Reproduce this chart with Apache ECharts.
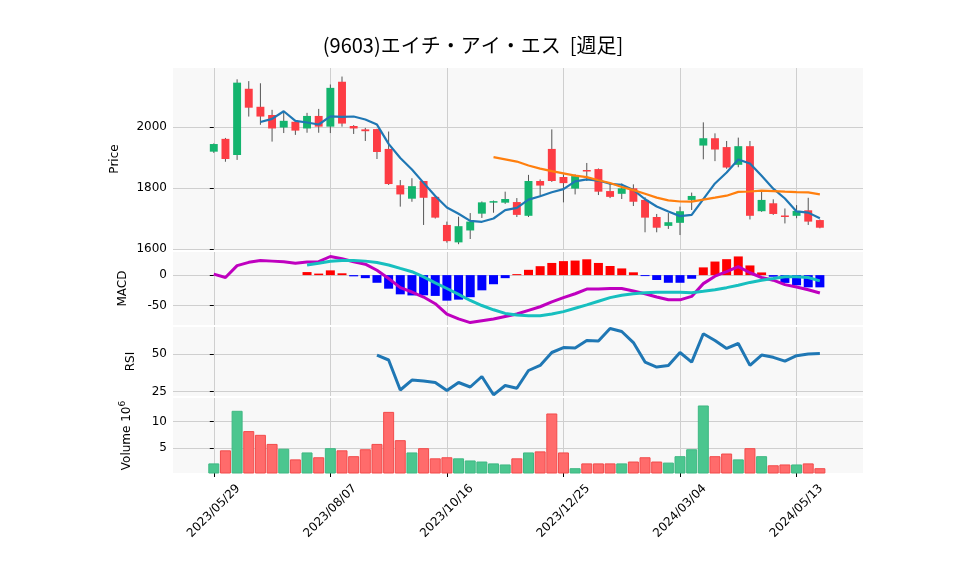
<!DOCTYPE html>
<html>
<head>
    <meta charset="utf-8">
    <script src="https://cdn.jsdelivr.net/npm/echarts@6/dist/echarts.min.js"></script>
    <style>
        body { margin: 0; background: #fff; }
        #main { width: 958px; height: 575px; }
    </style>
</head>

<body>
    <div id="main"></div>

    <script type="text/javascript">
        // weekly candles, 2023/05/29 .. 2024/05/27
        var opens  = [1919,1961,1908,2125,2066,2039,1998,2017,1995,2036,2001,2148,2003,1992,1993,1928,1809,1765,1823,1771,1679,1622,1661,1716,1752,1752,1754,1709,1823,1928,1836,1798,1859,1862,1790,1781,1799,1761,1705,1676,1686,1761,1939,1963,1934,1876,1937,1724,1750,1710,1709,1727,1695];
        var closes = [1944,1895,2145,2063,2034,1995,2020,1988,2036,2001,2128,2011,1995,1986,1918,1813,1779,1806,1768,1703,1626,1675,1690,1753,1757,1764,1712,1823,1808,1823,1816,1839,1856,1788,1771,1799,1755,1703,1670,1688,1724,1774,1963,1926,1867,1937,1709,1761,1715,1706,1725,1690,1670];
        var highs  = [1946,1964,2156,2150,2143,2056,2052,2020,2046,2059,2139,2165,2006,1997,1994,1985,1826,1832,1823,1772,1690,1706,1718,1756,1759,1788,1767,1843,1828,1992,1845,1845,1882,1864,1815,1815,1812,1770,1715,1718,1739,1785,2015,1979,1954,1965,1954,1788,1763,1733,1744,1768,1697];
        var lows   = [1915,1886,1892,2034,2007,1952,1980,1974,1981,1981,1980,2001,1977,1954,1895,1810,1739,1755,1679,1700,1621,1616,1633,1702,1719,1748,1705,1705,1771,1820,1753,1779,1823,1777,1767,1764,1741,1655,1655,1666,1646,1728,1894,1888,1863,1868,1697,1722,1712,1684,1701,1679,1668];
        var volumes = [2.15,4.6,12.0,8.2,7.5,5.8,4.9,2.9,4.2,3.3,5.0,4.6,3.5,4.8,5.8,11.8,6.5,4.2,5.0,3.1,3.3,3.1,2.7,2.5,2.15,1.95,3.1,4.2,4.4,11.5,4.2,1.25,2.15,2.15,2.15,2.15,2.5,3.3,2.5,2.3,3.5,4.8,13.0,3.5,4.0,2.9,5.0,3.5,1.8,1.95,1.95,2.15,1.25];
        var macdLine = [1.7,-3.9,15.6,21,24,23,22,19.5,21.7,22,30.6,27,22,18,8,-5.6,-20.6,-27.8,-36,-47,-64,-72,-78,-75,-72,-68,-64,-58,-52,-44,-37,-30.6,-23,-23,-22,-22,-26,-30.6,-36,-40.6,-40.6,-35,-14,-1.7,5.6,14,3.9,-3.9,-8.3,-15.6,-19.5,-24,-29.5];
        // signal starts at week 8
        var signalLine = [16.7,19.5,22.8,24,24,23,20.6,16.7,11,5.6,-2.8,-12.8,-22,-31.7,-41.7,-50,-57,-63,-65.6,-66.7,-66.7,-64,-60,-54.5,-49,-43,-37,-33,-30.6,-29,-28,-28,-28,-29,-26.7,-24,-20.6,-16.7,-12,-8.3,-5.6,-2.8,-2.8,-3.9,-9.4];
        var signalStart = 8;
        // RSI starts at week 14
        var rsiLine = [49.3,46,26,32.6,32,31,25.6,31,28,35,22.8,29,27.2,39,42.4,51,54.3,54,59,58.7,67,65,57.6,44.6,41.3,42.4,51,44.6,63.5,59,53.7,57,42.4,49.3,47.8,45.2,48.9,50,50.4];
        var rsiStart = 14;
        var tickIdx = [0, 10, 20, 30, 40, 50];
        var tickLabels = ['2023/05/29', '2023/08/07', '2023/10/16', '2023/12/25', '2024/03/04', '2024/05/13'];

        var upColor = '#14b46e', downColor = '#fd3c44';
        var upVol = '#4bc68f', downVol = '#ff6b6b';

        function sma(arr, n) {
            var out = [];
            for (var i = n - 1; i < arr.length; i++) {
                var s = 0;
                for (var k = i - n + 1; k <= i; k++) s += arr[k];
                out.push([i, s / n]);
            }
            return out;
        }

        var candleData = closes.map(function (c, i) { return [i, opens[i], c, lows[i], highs[i]]; });
        var volData = volumes.map(function (v, i) {
            var up = closes[i] >= opens[i];
            return { value: [i, v], itemStyle: { color: up ? upVol : downVol, borderColor: up ? '#3fb883' : '#f24b4b', borderWidth: 1 } };
        });
        var macdData = macdLine.map(function (v, i) { return [i, v]; });
        var signalData = signalLine.map(function (v, i) { return [i + signalStart, v]; });
        var histData = signalLine.map(function (s, i) {
            var h = macdLine[i + signalStart] - s;
            return { value: [i + signalStart, h], itemStyle: { color: h >= 0 ? '#ff0000' : '#0000ff' } };
        });
        var rsiData = rsiLine.map(function (v, i) { return [i + rsiStart, v]; });

        var font = 'DejaVu Sans';
        var grids = [
            { left: 173, right: 95, top: 68, height: 182 },
            { left: 173, right: 95, top: 252, height: 73 },
            { left: 173, right: 95, top: 327, height: 69 },
            { left: 173, right: 95, top: 398, height: 75 }
        ];
        grids.forEach(function (g) { g.show = true; g.backgroundColor = '#f8f8f8'; g.borderWidth = 0; });

        function xAxis(idx, last) {
            return {
                type: 'value', gridIndex: idx, min: -3.5, max: 55.7,
                axisLine: { show: false }, splitLine: { show: false },
                axisTick: { show: last, customValues: tickIdx, length: 4, lineStyle: { color: '#000' } },
                axisLabel: {
                    show: last, customValues: tickIdx, rotate: 45, color: '#000', fontSize: 12, fontFamily: font,
                    align: 'center', verticalAlign: 'middle', margin: 38,
                    formatter: function (v) { return tickLabels[tickIdx.indexOf(Math.round(v))] || ''; }
                }
            };
        }
        function yAxis(idx, min, max, ticks, name, gap) {
            return {
                type: 'value', gridIndex: idx, min: min, max: max,
                name: name, nameLocation: 'middle', nameGap: gap, nameRotate: 90,
                nameTextStyle: { color: '#000', fontSize: 12, fontFamily: font, rich: { sup: { fontSize: 9, verticalAlign: 'top', padding: [0, 0, 8, 0], fontFamily: font } } },
                axisLine: { show: false }, splitLine: { show: false },
                axisTick: { show: true, customValues: ticks, length: 4, lineStyle: { color: '#000' } },
                axisLabel: { customValues: ticks, color: '#000', fontSize: 12, fontFamily: font, margin: 6, formatter: function (v) { return String(v); } }
            };
        }
        function gridLines(yVals) {
            var d = tickIdx.map(function (t) { return { xAxis: t }; });
            yVals.forEach(function (v) { d.push({ yAxis: v }); });
            return { silent: true, symbol: 'none', label: { show: false }, lineStyle: { color: '#cfcfcf', type: 'solid', width: 1 }, data: d, z: 0 };
        }

        var chart = echarts.init(document.getElementById('main'));
        chart.setOption({
            animation: false,
            title: {
                text: '(9603)エイチ・アイ・エス  [週足]', left: 468, top: 30, textAlign: 'center',
                textStyle: { fontFamily: 'Noto Sans CJK JP', fontSize: 20, fontWeight: 'normal', color: '#000' }
            },
            grid: grids,
            xAxis: [xAxis(0, false), xAxis(1, false), xAxis(2, false), xAxis(3, true)],
            yAxis: [
                yAxis(0, 1597, 2193, [1600, 1800, 2000], 'Price', 52),
                yAxis(1, -82, 38, [-50, 0], 'MACD', 44),
                yAxis(2, 22, 68, [25, 50], 'RSI', 36),
                yAxis(3, 0.35, 14.4, [5, 10], 'Volume 10{sup|6}', 38)
            ],
            series: [
                {
                    type: 'custom', xAxisIndex: 0, yAxisIndex: 0, data: candleData,
                    encode: { x: 0, y: [1, 2, 3, 4] },
                    markLine: gridLines([1600, 1800, 2000]),
                    renderItem: function (params, api) {
                        var i = api.value(0), o = api.value(1), c = api.value(2), l = api.value(3), h = api.value(4);
                        var pO = api.coord([i, o]), pC = api.coord([i, c]), pL = api.coord([i, l]), pH = api.coord([i, h]);
                        var w = api.size([1, 0])[0] * 0.68;
                        return {
                            type: 'group', children: [
                                { type: 'line', shape: { x1: pH[0], y1: pH[1], x2: pL[0], y2: pL[1] }, style: { stroke: '#555', lineWidth: 1 } },
                                { type: 'rect', shape: { x: pO[0] - w / 2, y: Math.min(pO[1], pC[1]), width: w, height: Math.max(1.5, Math.abs(pO[1] - pC[1])) }, style: { fill: c >= o ? upColor : downColor } }
                            ]
                        };
                    }
                },
                { type: 'line', xAxisIndex: 0, yAxisIndex: 0, data: sma(closes, 5), showSymbol: false, lineStyle: { color: '#1f77b4', width: 2.2 }, z: 5 },
                { type: 'line', xAxisIndex: 0, yAxisIndex: 0, data: sma(closes, 25), showSymbol: false, lineStyle: { color: '#ff7f0e', width: 2.2 }, z: 5 },
                { type: 'bar', xAxisIndex: 1, yAxisIndex: 1, data: histData, barWidth: 9, markLine: gridLines([-50, 0]) },
                { type: 'line', xAxisIndex: 1, yAxisIndex: 1, data: macdData, showSymbol: false, lineStyle: { color: '#bf00bf', width: 3 }, z: 5 },
                { type: 'line', xAxisIndex: 1, yAxisIndex: 1, data: signalData, showSymbol: false, lineStyle: { color: '#17bfbf', width: 3 }, z: 5 },
                { type: 'line', xAxisIndex: 2, yAxisIndex: 2, data: rsiData, showSymbol: false, lineStyle: { color: '#1f77b4', width: 3 }, markLine: gridLines([25, 50]) },
                { type: 'bar', xAxisIndex: 3, yAxisIndex: 3, data: volData, barWidth: 11, markLine: gridLines([5, 10]) }
            ]
        });
    </script>
</body>

</html>
